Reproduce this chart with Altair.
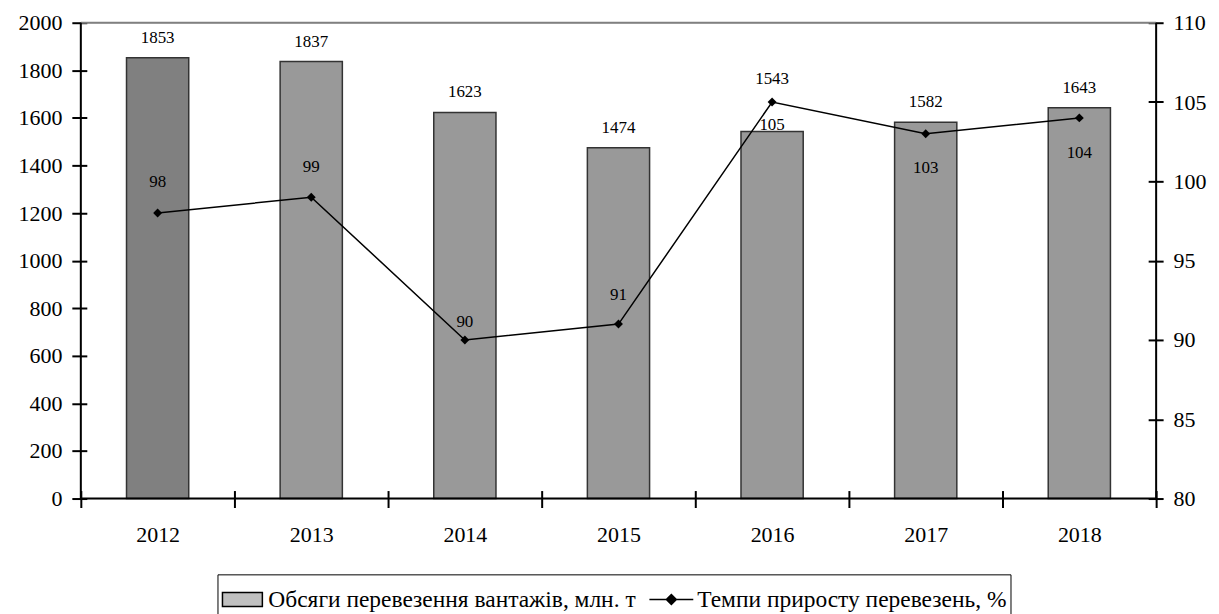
import altair as alt
import pandas as pd

years = ["2012", "2013", "2014", "2015", "2016", "2017", "2018"]
volumes = [1853, 1837, 1623, 1474, 1543, 1582, 1643]
growth = [98, 99, 90, 91, 105, 103, 104]
series_names = ["Обсяги перевезення  вантажів, млн. т", "Темпи приросту перевезень, %"]

df = pd.DataFrame({"year": years, "volume": volumes, "growth": growth})
legend_df = pd.DataFrame({"series": series_names})

FONT = "Liberation Serif"
W, H = 1078, 477

x_enc = alt.X("year:N", sort=years, title=None,
              scale=alt.Scale(paddingInner=0, paddingOuter=0),
              axis=alt.Axis(labelAngle=0, domain=False, offset=-8, tickSize=17,
                            tickBand="extent", tickWidth=2, tickColor="black",
                            labelFont=FONT, labelFontSize=22, labelPadding=17,
                            labelColor="black"))

y_left = alt.Y("volume:Q", title=None,
               scale=alt.Scale(domain=[0, 2000], nice=False),
               axis=alt.Axis(orient="left", values=list(range(0, 2001, 200)), domain=False,
                             grid=False, offset=-6, tickSize=15, tickWidth=2, format="d",
                             tickColor="black", labelFont=FONT, labelFontSize=22,
                             labelPadding=10, labelColor="black"))

y_right = alt.Y("growth:Q", title=None,
                scale=alt.Scale(domain=[80, 110], nice=False, zero=False),
                axis=alt.Axis(orient="right", values=list(range(80, 111, 5)), domain=False,
                              grid=False, offset=-8, tickSize=15, tickWidth=2, format="d",
                              tickColor="black", labelFont=FONT, labelFontSize=22,
                              labelPadding=10, labelColor="black"))

base = alt.Chart(df)


def text_layers(offsets, y_enc, field):
    groups = {}
    for yr, off in offsets.items():
        groups.setdefault(off, []).append(yr)
    out = []
    for off, yrs in groups.items():
        out.append(
            base.transform_filter(alt.FieldOneOfPredicate(field="year", oneOf=yrs))
            .mark_text(baseline="alphabetic", dy=off, fontSize=17, font=FONT, color="black")
            .encode(x=x_enc, y=y_enc, text=f"{field}:Q")
        )
    return out


bars = base.mark_bar(stroke="#333333", strokeWidth=1.5,
                     width=alt.RelativeBandSize(0.405)).encode(
    x=x_enc, y=y_left,
    fill=alt.condition(alt.datum.year == "2012", alt.value("#808080"), alt.value("#999999")),
)
bar_label_offsets = {"2012": -15, "2013": -15, "2014": -15, "2015": -15,
                     "2016": -48, "2017": -15, "2018": -15}
left = alt.layer(bars, *text_layers(bar_label_offsets, y_left, "volume"))

line = base.mark_line(color="black", strokeWidth=1.5).encode(x=x_enc, y=y_right)
points = base.mark_point(shape="diamond", size=80, filled=True, color="black",
                         opacity=1).encode(x=x_enc, y=y_right)
line_label_offsets = {"2012": -26, "2013": -25, "2014": -13, "2015": -24,
                      "2016": 28, "2017": 39, "2018": 40}
right = alt.layer(line, points, *text_layers(line_label_offsets, y_right, "growth"))

one = alt.Data(values=[{}])
frame = [
    alt.Chart(one).mark_rule(color="#808080", strokeWidth=2).encode(
        x=alt.value(0), x2=alt.value(W), y=alt.value(0)),
    alt.Chart(one).mark_rule(color="black", strokeWidth=2).encode(
        x=alt.value(0), y=alt.value(0), y2=alt.value(H)),
    alt.Chart(one).mark_rule(color="black", strokeWidth=2).encode(
        x=alt.value(W), y=alt.value(0), y2=alt.value(H)),
    alt.Chart(one).mark_rule(color="black", strokeWidth=2).encode(
        x=alt.value(0), x2=alt.value(W), y=alt.value(H)),
]

rect_path = "M-1,-0.35H1V0.35H-1Z"
line_path = "M-1.1,0H1.1M0,-0.25L0.25,0L0,0.25L-0.25,0Z"
legend_cfg = alt.Legend(title=None, orient="none", legendX=137, legendY=553,
                        direction="horizontal",
                        symbolSize=1600, symbolStrokeColor="black", symbolStrokeWidth=1.5,
                        symbolOpacity=1, labelFontSize=23.5, labelFont=FONT, labelColor="black",
                        labelLimit=1000, labelOffset=5, columnPadding=4,
                        strokeColor="black", padding=4)
legend_layer = alt.Chart(legend_df).mark_point(filled=False, opacity=0,
                                               strokeWidth=1.5).encode(
    fill=alt.Fill("series:N", sort=series_names,
                  scale=alt.Scale(domain=series_names, range=["#c0c0c0", "black"]),
                  legend=legend_cfg),
    shape=alt.Shape("series:N", sort=series_names,
                    scale=alt.Scale(domain=series_names, range=[rect_path, line_path]),
                    legend=legend_cfg),
    stroke=alt.Stroke("series:N", sort=series_names,
                      scale=alt.Scale(domain=series_names, range=["black", "black"]),
                      legend=legend_cfg),
)

chart = alt.layer(left, right, *frame, legend_layer).resolve_scale(
    y="independent"
).properties(
    width=W, height=H, padding={"left": 10, "top": 3, "right": 5, "bottom": 0}
).configure_view(
    strokeWidth=0
).configure_text(
    font=FONT
).configure_legend(
    labelFont=FONT, labelFontSize=23.5, labelColor="black"
).configure(background="white")

chart.save("out.html", embed_options={"renderer": "svg", "actions": False})
